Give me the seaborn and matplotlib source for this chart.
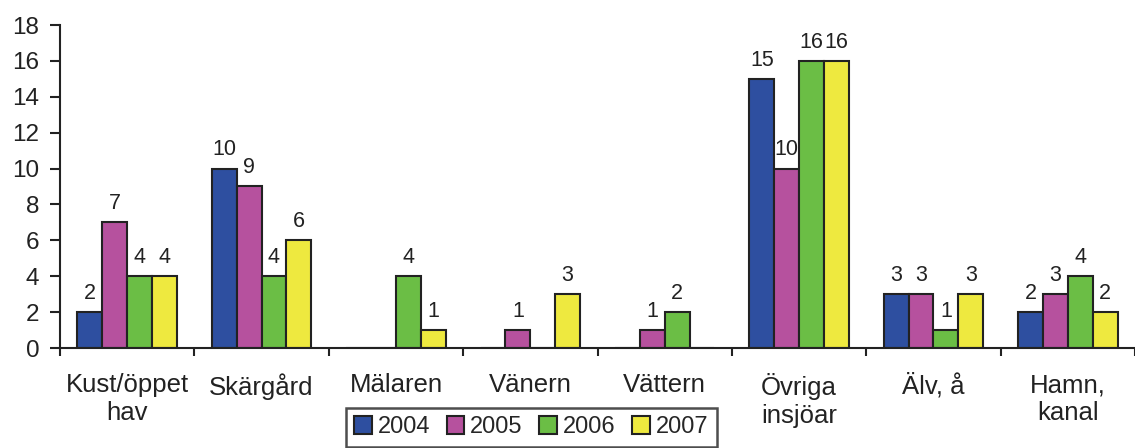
import matplotlib
matplotlib.use("Agg")
import matplotlib.pyplot as plt
import seaborn as sns
import pandas as pd
import numpy as np

categories = ["Kust/öppet\nhav", "Skärgård", "Mälaren", "Vänern", "Vättern",
              "Övriga\ninsjöar", "Älv, å", "Hamn,\nkanal"]
years = ["2004", "2005", "2006", "2007"]
v2004 = [2, 10, 0, 0, 0, 15, 3, 2]
v2005 = [7, 9, 0, 1, 1, 10, 3, 3]
v2006 = [4, 4, 4, 0, 2, 16, 1, 4]
v2007 = [4, 6, 1, 3, 0, 16, 3, 2]
colors = ["#2E4FA0", "#B6519E", "#6BBE45", "#EEE93F"]

series = [v2004, v2005, v2006, v2007]
rows = []
for y, vals in zip(years, series):
    for c, v in zip(categories, vals):
        rows.append({"cat": c, "year": y, "value": v})
df = pd.DataFrame(rows)

sns.set_theme(style="white")
plt.rcParams["font.family"] = ["Liberation Sans", "DejaVu Sans"]

fig = plt.figure(figsize=(11.35, 4.48), dpi=100)
ax = fig.add_axes([60/1135, 100/448, 1075/1135, 323/448])

sns.barplot(data=df, x="cat", y="value", hue="year", order=categories,
            hue_order=years, palette=colors, width=0.74, saturation=1,
            edgecolor="#222222", linewidth=1.5, ax=ax, legend=True)

for cont, vals in zip(ax.containers, series):
    labels = [str(v) if v != 0 else "" for v in vals]
    ax.bar_label(cont, labels=labels, padding=6, fontsize=15.5, color="#222222")

ax.set_ylim(0, 18)
ax.set_xlim(-0.5, 7.5)
ax.set_yticks(np.arange(0, 19, 2))
ax.set_xlabel("")
ax.set_ylabel("")
for s in ["top", "right"]:
    ax.spines[s].set_visible(False)
for s in ["left", "bottom"]:
    ax.spines[s].set_color("#222222")
    ax.spines[s].set_linewidth(1.5)

ax.tick_params(axis="y", which="major", direction="out", length=7, width=1.5,
               color="#222222", labelsize=17.5, labelcolor="#222222", left=True, pad=8)
ax.set_xticks(np.arange(-0.5, 8.0, 1.0), minor=True)
ax.tick_params(axis="x", which="major", length=0, labelsize=18.5,
               labelcolor="#222222", pad=18)
ax.tick_params(axis="x", which="minor", direction="out", length=6, width=1.5,
               color="#222222", bottom=True)

ax.get_legend().remove()
handles = [plt.Rectangle((0, 0), 1, 1, facecolor=c, edgecolor="#222222", linewidth=1.5)
           for c in colors]
leg = fig.legend(handles, years, loc="upper center", bbox_to_anchor=(0.468, 1 - 408/448),
                 ncol=4, frameon=True, fancybox=False, edgecolor="#222222",
                 fontsize=17, handlelength=0.75, handleheight=0.75, handletextpad=0.25,
                 columnspacing=0.7, borderpad=0.35, borderaxespad=0.0)
leg.get_frame().set_linewidth(1.8)

fig.savefig("out.png", dpi=100)
